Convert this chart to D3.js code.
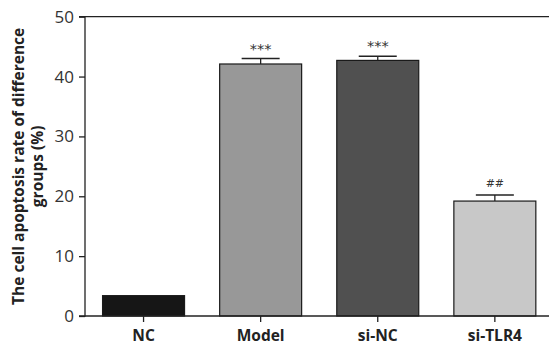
<!DOCTYPE html>
<html><head><meta charset="utf-8">
<script src="https://cdn.jsdelivr.net/npm/d3@7"></script>
<style>body{margin:0;background:#fff}svg{display:block}</style>
</head><body>
<svg id="c" width="549" height="346"></svg>
<script>
const categories = ["NC", "Model", "si-NC", "si-TLR4"];
const values = [3.4, 42.1, 42.7, 19.2];
const errors = [0, 0.9, 0.7, 1.0];
const marks = ["", "***", "***", "##"];
const colors = ["#161616", "#989898", "#505050", "#c8c8c8"];
const yTicks = [0, 10, 20, 30, 40, 50];

const svg = d3.select("#c");
const font = "'Open Sans', sans-serif";
const x0 = 85, yTop = 16.7, yBot = 316;
const x = d3.scaleBand().domain(categories).range([x0, x0 + 4 * 117.1]).paddingInner(0.3).paddingOuter(0.15);
const y = d3.scaleLinear().domain([0, 50]).range([yBot, yTop]);

// top border
svg.append("line").attr("x1", x0).attr("x2", 549).attr("y1", yTop).attr("y2", yTop)
  .attr("stroke", "#222").attr("stroke-width", 1.3);

// bars
svg.selectAll("rect.bar").data(categories).join("rect").attr("class", "bar")
  .attr("x", d => x(d)).attr("width", x.bandwidth())
  .attr("y", (d, i) => y(values[i])).attr("height", (d, i) => yBot - y(values[i]))
  .attr("fill", (d, i) => colors[i]).attr("stroke", "#1a1a1a").attr("stroke-width", 1.2);

// error bars
categories.forEach((c, i) => {
  if (!errors[i]) return;
  const cx = x(c) + x.bandwidth() / 2;
  svg.append("line").attr("x1", cx).attr("x2", cx).attr("y1", y(values[i])).attr("y2", y(values[i] + errors[i]))
    .attr("stroke", "#222").attr("stroke-width", 1.3);
  svg.append("line").attr("x1", cx - 19).attr("x2", cx + 19).attr("y1", y(values[i] + errors[i])).attr("y2", y(values[i] + errors[i]))
    .attr("stroke", "#222").attr("stroke-width", 1.5);
  svg.append("text").attr("x", cx).attr("y", y(values[i] + errors[i]) - (marks[i] === "##" ? 8 : 5))
    .attr("text-anchor", "middle").attr("font-family", "'DejaVu Sans', sans-serif").attr("font-size", marks[i] === "##" ? 11 : 14.5).attr("fill", "#333")
    .text(marks[i]);
});

// axes
const yAxis = svg.append("g").attr("transform", `translate(${x0},0)`)
  .call(d3.axisLeft(y).tickValues(yTicks).tickSize(6).tickPadding(5));
const xAxis = svg.append("g").attr("transform", `translate(0,${yBot})`)
  .call(d3.axisBottom(x).tickSize(6).tickPadding(8));
[yAxis, xAxis].forEach(g => {
  g.select(".domain").attr("stroke", "#222").attr("stroke-width", 1.3);
  g.selectAll(".tick line").attr("stroke", "#222").attr("stroke-width", 1.3);
});
yAxis.select(".domain").attr("d", `M-6,${yTop}H0V${yBot}H-6`);
xAxis.select(".domain").attr("d", `M${x0},0H549`);
yAxis.selectAll("text").attr("font-family", font).attr("font-size", 17).attr("fill", "#333");
xAxis.selectAll("text").attr("font-family", font).attr("font-size", 15.5).attr("font-weight", "bold").attr("fill", "#222");

// y title
const t = svg.append("text").attr("transform", `translate(24,${(yTop + yBot) / 2}) rotate(-90)`)
  .attr("text-anchor", "middle").attr("font-family", font).attr("font-size", 15.5).attr("font-weight", "bold").attr("fill", "#222");
t.append("tspan").attr("x", 0).attr("dy", 0).text("The cell apoptosis rate of difference");
t.append("tspan").attr("x", 0).attr("dy", 19).text("groups (%)");
</script>
</body></html>
